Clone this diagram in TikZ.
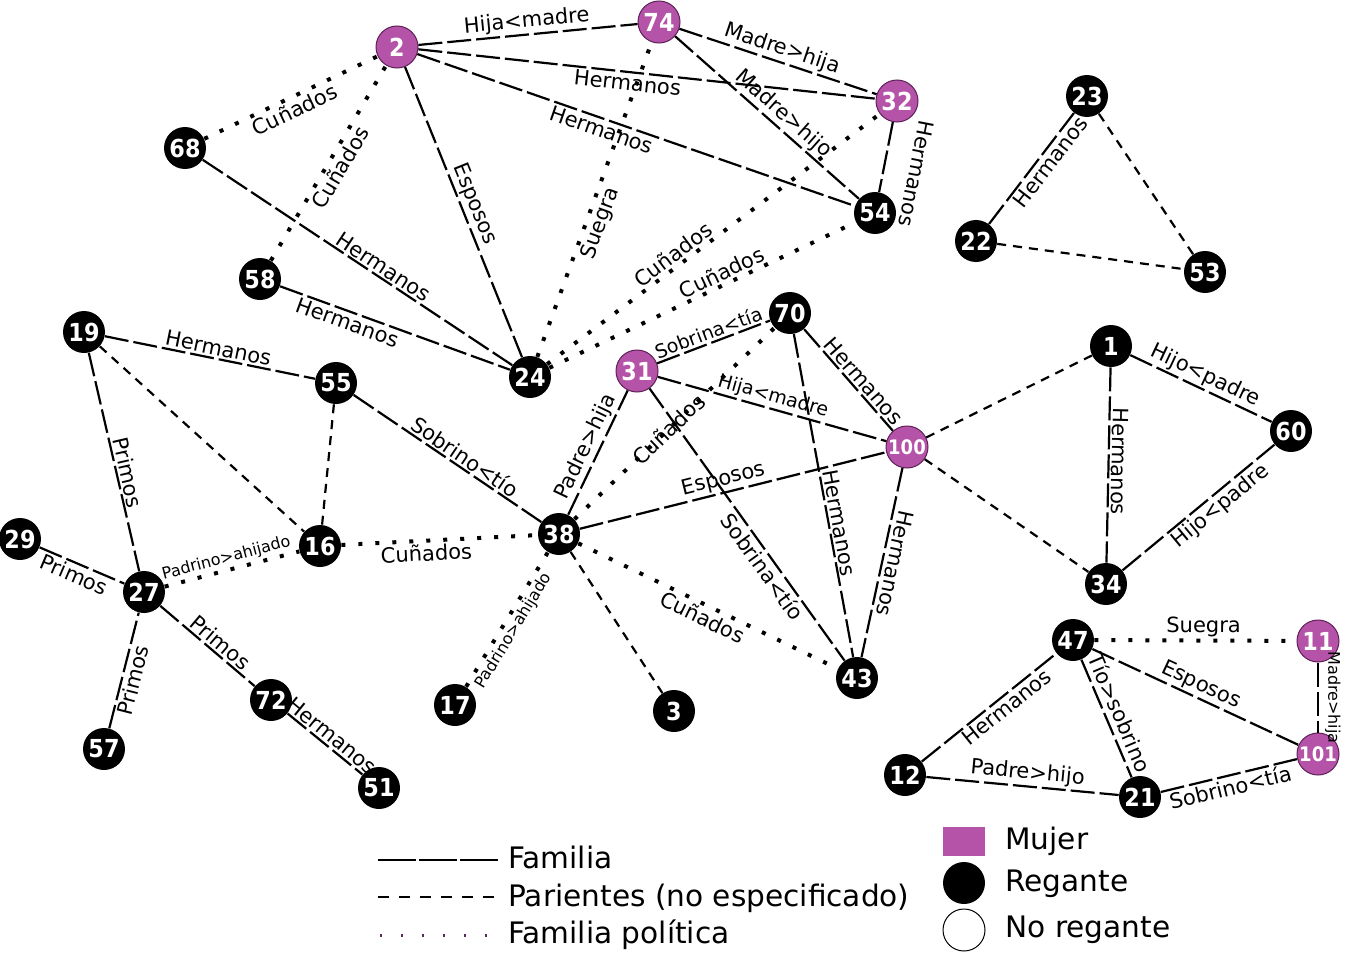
\documentclass[tikz,border=0pt]{standalone}
\usepackage{fontspec}
\setmainfont{DejaVu Sans}
\newfontfamily\numfont[FakeStretch=0.9]{DejaVu Sans}
\usetikzlibrary{positioning}

\definecolor{mujercolor}{HTML}{B553A8}
\definecolor{mujerborde}{HTML}{5E2157}
\definecolor{politicacolor}{HTML}{5C2A5C}

\begin{document}
\begin{tikzpicture}[
		x=0.5pt, y=-0.5pt,
		% Estilo de las personas
		persona/.style={
			circle,
			minimum size=21pt,
			inner sep=0pt,
			text=white,
			font=\numfont\bfseries\fontsize{12.4}{12.4}\selectfont
		},
		regante/.style={persona, fill=black},
		mujer/.style={persona, fill=mujercolor, draw=mujerborde, line width=0.5pt},
		mujerchica/.style={mujer, font=\numfont\bfseries\fontsize{10}{10}\selectfont},
		% Estilo de las relaciones
		familia/.style={line width=1.1pt, dash pattern=on 12pt off 2.5pt},
		parientes/.style={line width=1.1pt, dash pattern=on 4.5pt off 3.5pt},
		politica/.style={line width=2pt, dash pattern=on 2pt off 6.5pt},
		% Estilo de las etiquetas
		rel/.style={sloped, allow upside down, inner sep=1pt, font=\fontsize{10.5}{11}\selectfont},
		relchica/.style={rel, font=\fontsize{9.5}{10}\selectfont},
		relmini/.style={rel, font=\fontsize{8}{8}\selectfont},
		leyenda/.style={font=\fontsize{14.8}{15}\selectfont, anchor=base west, inner sep=0pt}
	]
	\useasboundingbox (0,0) rectangle (1351,953);
	
	% --- PERSONAS ---
	\node[mujer] (n2) at (397,47) {2};
	\node[mujer] (n74) at (659,22) {74};
	\node[mujer] (n32) at (897,101) {32};
	\node[regante] (n54) at (875,213) {54};
	\node[regante] (n68) at (185,148) {68};
	\node[regante] (n58) at (260,279) {58};
	\node[regante] (n24) at (530,377) {24};
	\node[regante] (n23) at (1087,96) {23};
	\node[regante] (n22) at (976,241) {22};
	\node[regante] (n53) at (1205,272) {53};
	\node[regante] (n19) at (84,332) {19};
	\node[regante] (n55) at (336,383) {55};
	\node[regante] (n70) at (790,313) {70};
	\node[mujer] (n31) at (637,371) {31};
	\node[mujerchica] (n100) at (907,447) {100};
	\node[regante] (n1) at (1111,346) {1};
	\node[regante] (n60) at (1291,431) {60};
	\node[regante] (n34) at (1106,584) {34};
	\node[regante] (n16) at (320,546) {16};
	\node[regante] (n38) at (559,534) {38};
	\node[regante] (n29) at (20,539) {29};
	\node[regante] (n27) at (144,592) {27};
	\node[regante] (n57) at (104,749) {57};
	\node[regante] (n72) at (271,700) {72};
	\node[regante] (n51) at (379,788) {51};
	\node[regante] (n17) at (455,705) {17};
	\node[regante] (n3) at (674,711) {3};
	\node[regante] (n43) at (857,678) {43};
	\node[regante] (n47) at (1073,640) {47};
	\node[mujer] (n11) at (1318,641) {11};
	\node[mujerchica] (n101) at (1318,754) {101};
	\node[regante] (n12) at (905,775) {12};
	\node[regante] (n21) at (1140,797) {21};
	
	% --- FAMILIA ---
	\draw[familia] (n2) -- node[rel, above, pos=0.5] {Hija<madre} (n74);
	\draw[familia] (n2) -- node[rel, below, pos=0.46] {Hermanos} (n32);
	\draw[familia] (n2) -- node[rel, below, pos=0.43] {Hermanos} (n54);
	\draw[familia] (n74) -- node[rel, above, pos=0.5] {Madre>hija} (n32);
	\draw[familia] (n74) -- node[rel, above, pos=0.54] {Madre>hijo} (n54);
	\draw[familia] (n32) -- node[rel, above, pos=0.65, inner sep=12pt] {Hermanos} (n54);
	\draw[familia] (n68) -- node[rel, above, pos=0.565] {Hermanos} (n24);
	\draw[familia] (n58) -- node[rel, below, pos=0.31] {Hermanos} (n24);
	\draw[familia] (n2) -- node[rel, above, pos=0.49] {Esposos} (n24);
	\draw[familia] (n19) -- node[rel, above, pos=0.53] {Hermanos} (n55);
	\draw[familia] (n19) -- node[rel, above, pos=0.56] {Primos} (n27);
	\draw[familia] (n29) -- node[rel, below, pos=0.46] {Primos} (n27);
	\draw[familia] (n57) -- node[rel, below, pos=0.44] {Primos} (n27);
	\draw[familia] (n27) -- node[rel, above, pos=0.56] {Primos} (n72);
	\draw[familia] (n72) -- node[rel, above, pos=0.5] {Hermanos} (n51);
	\draw[familia] (n55) -- node[rel, above, pos=0.56] {Sobrino<tío} (n38);
	\draw[familia] (n38) -- node[rel, above, pos=0.5] {Padre>hija} (n31);
	\draw[familia] (n31) -- node[relchica, above, pos=0.49] {Sobrina<tía} (n70);
	\draw[familia] (n31) -- node[relchica, above, pos=0.49] {Hija<madre} (n100);
	\draw[familia] (n38) -- node[rel, above, pos=0.48] {Esposos} (n100);
	\draw[familia] (n31) -- node[rel, below, pos=0.63] {Sobrina<tío} (n43);
	\draw[familia] (n70) -- node[rel, above, pos=0.58] {Hermanos} (n100);
	\draw[familia] (n70) -- node[rel, above, pos=0.59] {Hermanos} (n43);
	\draw[familia] (n100) -- node[rel, above, pos=0.49, inner sep=2pt] {Hermanos} (n43);
	\draw[familia] (n1) -- node[rel, above, pos=0.48] {Hermanos} (n34);
	\draw[familia] (n1) -- node[rel, above, pos=0.49] {Hijo<padre} (n60);
	\draw[familia] (n34) -- node[rel, below, pos=0.59] {Hijo<padre} (n60);
	\draw[familia] (n22) -- node[rel, below, pos=0.62] {Hermanos} (n23);
	\draw[familia] (n12) -- node[rel, below, pos=0.58] {Hermanos} (n47);
	\draw[familia] (n12) -- node[rel, above, pos=0.52] {Padre>hijo} (n21);
	\draw[familia] (n47) -- node[rel, above, pos=0.5, inner sep=2.5pt] {Tío>sobrino} (n21);
	\draw[familia] (n47) -- node[rel, above, pos=0.5] {Esposos} (n101);
	\draw[familia] (n21) -- node[rel, below, pos=0.49] {Sobrino<tía} (n101);
	\draw[familia] (n11) -- node[relmini, above, pos=0.5, inner sep=3pt] {Madre>hija} (n101);
	
	% --- PARIENTES ---
	\draw[parientes] (n23) -- (n53);
	\draw[parientes] (n22) -- (n53);
	\draw[parientes] (n19) -- (n16);
	\draw[parientes] (n55) -- (n16);
	\draw[parientes] (n38) -- (n3);
	\draw[parientes] (n100) -- (n1);
	\draw[parientes] (n100) -- (n34);
	
	% --- FAMILIA POLITICA ---
	\draw[politica] (n68) -- node[rel, below, pos=0.49] {Cuñados} (n2);
	\draw[politica] (n58) -- node[rel, below, pos=0.51] {Cuñados} (n2);
	\draw[politica] (n24) -- node[rel, below, pos=0.44] {Suegra} (n74);
	\draw[politica] (n24) -- node[rel, above, pos=0.4] {Cuñados} (n32);
	\draw[politica] (n24) -- node[rel, above, pos=0.58] {Cuñados} (n54);
	\draw[politica] (n38) -- node[rel, pos=0.47] {Cuñados} (n70);
	\draw[politica] (n16) -- node[rel, below, pos=0.43] {Cuñados} (n38);
	\draw[politica] (n27) -- node[relmini, above, pos=0.48] {Padrino>ahijado} (n16);
	\draw[politica] (n17) -- node[relmini, below, pos=0.46] {Padrino>ahijado} (n38);
	\draw[politica] (n38) -- node[rel, below, pos=0.5] {Cuñados} (n43);
	\draw[politica] (n47) -- node[rel, above, pos=0.54] {Suegra} (n11);
	
	% --- LEYENDA ---
	\coordinate (fa1) at (378,860);
	\coordinate (fa2) at (500,860);
	\coordinate (pa1) at (378,897);
	\coordinate (pa2) at (500,897);
	\coordinate (po1) at (380,935);
	\coordinate (po2) at (500,935);
	\draw[line width=0.9pt, dash pattern=on 19pt off 1.5pt] (fa1) -- (fa2);
	\draw[line width=0.9pt, dash pattern=on 5.5pt off 5pt] (pa1) -- (pa2);
	\draw[line width=1.5pt, politicacolor, dash pattern=on 1.2pt off 9.3pt] (po1) -- (po2);
	\node[leyenda] (tfam) at (508,868) {Familia};
	\node[leyenda] (tpar) at (508,906) {Parientes (no especificado)};
	\node[leyenda] (tpol) at (508,943) {Familia política};
	
	\node[fill=mujercolor, minimum width=21pt, minimum height=14.5pt, inner sep=0pt] (lmujer) at (964,841) {};
	\node[circle, fill=black, minimum size=21pt, inner sep=0pt] (lregante) at (964,883) {};
	\node[circle, draw=black, line width=0.5pt, minimum size=21pt, inner sep=0pt] (lnoregante) at (964,930) {};
	\node[leyenda] (tmujer) at (1005,849) {Mujer};
	\node[leyenda] (tregante) at (1005,891) {Regante};
	\node[leyenda] (tnoregante) at (1005,937) {No regante};
	
\end{tikzpicture}
\end{document}
